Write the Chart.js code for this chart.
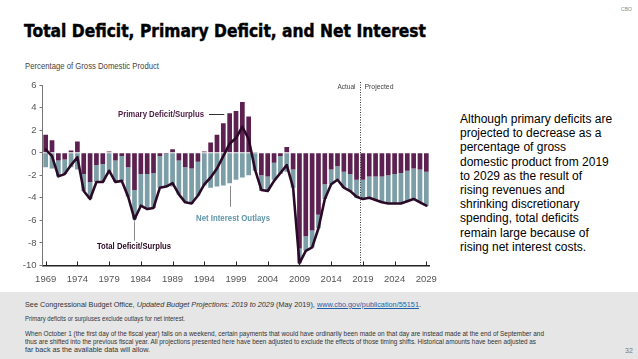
<!DOCTYPE html>
<html><head><meta charset="utf-8">
<script src="https://cdn.jsdelivr.net/npm/chart.js@4.4.1/dist/chart.umd.min.js"></script>
<style>
html,body{margin:0;padding:0;}
body{width:638px;height:359px;position:relative;overflow:hidden;background:#fff;font-family:"Liberation Sans",Arial,sans-serif;}
.fit{position:absolute;white-space:nowrap;transform-origin:0 50%;line-height:1;}
#title{left:24px;top:23px;font-size:17px;font-weight:bold;color:#000;font-family:"DejaVu Sans","Liberation Sans",sans-serif;-webkit-text-stroke:0.45px #000;}
#cbo{left:621px;top:7px;font-size:5px;color:#888;}
#ytitle{left:25px;top:62px;font-size:9px;color:#444;font-family:"Liberation Sans Narrow","Liberation Sans",sans-serif;}
#chartWrap{position:absolute;left:0;top:75px;width:445px;height:215px;}
#side{position:absolute;left:460px;top:112px;font-size:12px;line-height:14.2px;color:#000;white-space:nowrap;}
#footer{position:absolute;left:0;top:292px;width:638px;height:67px;background:#e6e6e6;}
.fl{position:absolute;left:25px;white-space:nowrap;transform-origin:0 50%;font-size:7px;line-height:1;color:#333;}
.fl a{color:#1f5fa8;text-decoration:underline;}
</style></head>
<body>
<div id="cbo" class="fit" data-w="11">CBO</div>
<div id="title" class="fit" data-w="402">Total Deficit, Primary Deficit, and Net Interest</div>
<div id="ytitle" class="fit" data-w="134">Percentage of Gross Domestic Product</div>
<div id="chartWrap"><canvas id="c" width="445" height="215"></canvas></div>
<div id="side">Although primary deficits are<br>projected to decrease as a<br>percentage of gross<br>domestic product from 2019<br>to 2029 as the result of<br>rising revenues and<br>shrinking discretionary<br>spending, total deficits<br>remain large because of<br>rising net interest costs.</div>
<div id="footer">
<div class="fl" data-w="396" style="top:8.5px;">See Congressional Budget Office, <i>Updated Budget Projections: 2019 to 2029</i> (May 2019), <a>www.cbo.gov/publication/55151</a>.</div>
<div class="fl" data-w="160" style="top:23px;">Primary deficits or surpluses exclude outlays for net interest.</div>
<div class="fl" data-w="519" style="top:37.5px;">When October 1 (the first day of the fiscal year) falls on a weekend, certain payments that would have ordinarily been made on that day are instead made at the end of September and</div>
<div class="fl" data-w="511" style="top:45.5px;">thus are shifted into the previous fiscal year. All projections presented here have been adjusted to exclude the effects of those timing shifts. Historical amounts have been adjusted as</div>
<div class="fl" data-w="125" style="top:53.5px;">far back as the available data will allow.</div>
<div class="fl" style="left:625px;top:55px;color:#777;">32</div>
</div>
<script>
// ---- Data (percentage of GDP) ----
const years = ['1969','1970','1971','1972','1973','1974','1975','1976','1977','1978',
'1979','1980','1981','1982','1983','1984','1985','1986','1987','1988',
'1989','1990','1991','1992','1993','1994','1995','1996','1997','1998',
'1999','2000','2001','2002','2003','2004','2005','2006','2007','2008',
'2009','2010','2011','2012','2013','2014','2015','2016','2017','2018',
'2019','2020','2021','2022','2023','2024','2025','2026','2027','2028','2029'];

const tickYears = ['1969','1974','1979','1984','1989','1994','1999','2004','2009','2014','2019','2024','2029'];
const yTicks = [6,4,2,0,-2,-4,-6,-8,-10];

// Primary deficit (-) / surplus (+)
const primary = [1.6,1.1,-0.7,-0.6,0.2,1.0,-1.9,-2.6,-1.1,-1.0,
0.1,-0.7,-0.3,-1.3,-3.3,-1.9,-1.9,-1.8,-0.3,-0.1,
0.3,-0.7,-1.3,-1.4,-0.8,0.1,0.9,1.6,2.6,3.5,
3.7,4.5,3.2,0.05,-2.0,-2.1,-0.9,-0.3,0.5,-1.5,
-8.5,-7.4,-6.9,-5.5,-2.8,-1.5,-1.2,-1.7,-1.9,-2.4,
-2.4,-2.1,-2.1,-2.1,-2.0,-1.9,-1.8,-1.6,-1.4,-1.5,-1.7];

// Net interest outlays
const netInterest = [1.3,1.4,1.4,1.3,1.3,1.5,1.5,1.5,1.5,1.6,
1.7,1.9,2.2,2.6,2.6,2.9,3.1,3.1,2.8,2.9,
3.0,3.0,3.1,3.1,3.0,2.9,3.1,3.0,2.9,2.7,
2.4,2.2,2.0,1.6,1.4,1.3,1.5,1.6,1.7,1.6,
1.3,1.3,1.5,1.2,1.3,1.3,1.2,1.4,1.5,1.6,
1.8,1.9,2.1,2.3,2.5,2.6,2.7,2.7,2.7,2.9,3.0];

// Total deficit (-) / surplus (+)
const totalDeficit = [0.3,-0.3,-2.1,-1.9,-1.1,-0.4,-3.4,-4.1,-2.6,-2.6,
-1.6,-2.6,-2.5,-3.9,-5.9,-4.7,-5.0,-4.9,-3.1,-3.0,
-2.7,-3.7,-4.4,-4.5,-3.8,-2.8,-2.2,-1.4,-0.3,0.8,
1.3,2.3,1.2,-1.5,-3.3,-3.4,-2.5,-1.8,-1.1,-3.1,
-9.8,-8.7,-8.4,-6.7,-4.1,-2.8,-2.4,-3.1,-3.4,-3.9,
-4.1,-4.0,-4.2,-4.4,-4.5,-4.5,-4.5,-4.3,-4.1,-4.4,-4.7];

const PURPLE = '#5d2151';
const TEAL = '#7b9ea7';
const LINE = '#2b0a27';
const FONT = '"Liberation Sans Narrow","Liberation Sans",Arial,sans-serif';

function fitText(ctx, text, left, y, w){
  const m = ctx.measureText(text).width;
  ctx.save(); ctx.translate(left, y); ctx.scale(w/m, 1);
  ctx.textAlign='left'; ctx.textBaseline='middle';
  ctx.fillText(text, 0, 0); ctx.restore();
}

const annot = {
  id:'annot',
  afterDraw(chart){
    const ctx = chart.ctx, xs = chart.scales.x, ys = chart.scales.y;
    const X = y => xs.getPixelForValue(years.indexOf(y));
    ctx.save();
    // upward tick marks on x axis
    ctx.strokeStyle = '#222'; ctx.lineWidth = 1;
    tickYears.forEach(t => {
      const x = Math.round(X(t)) + 0.5;
      ctx.beginPath(); ctx.moveTo(x, ys.bottom); ctx.lineTo(x, ys.bottom - 4); ctx.stroke();
    });
    // actual / projected divider
    const xd = Math.round((X('2018') + X('2019')) / 2) + 0.5;
    ctx.strokeStyle = '#333'; ctx.setLineDash([1,1.5]);
    ctx.beginPath(); ctx.moveTo(xd, ys.top - 3); ctx.lineTo(xd, ys.bottom); ctx.stroke();
    ctx.setLineDash([]);
    ctx.fillStyle = '#444'; ctx.font = '8px ' + FONT;
    fitText(ctx, 'Actual', xd - 23, ys.top + 2, 18);
    fitText(ctx, 'Projected', xd + 4, ys.top + 2, 29);
    // leaders
    ctx.lineWidth = 1;
    ctx.strokeStyle = '#333';
    const yp = Math.round(ys.getPixelForValue(3.43)) + 0.5;
    ctx.beginPath(); ctx.moveTo(209, yp); ctx.lineTo(X('1997') + 1, yp); ctx.stroke();
    ctx.strokeStyle = '#888';
    const xn = Math.round(X('1998')) + 0.5;
    ctx.beginPath(); ctx.moveTo(xn, ys.getPixelForValue(-2.95)); ctx.lineTo(xn, ys.getPixelForValue(-4.8)); ctx.stroke();
    const xt = Math.round(X('1983')) + 0.5;
    ctx.beginPath(); ctx.moveTo(xt, ys.getPixelForValue(-6.1)); ctx.lineTo(xt, ys.getPixelForValue(-7.8)); ctx.stroke();
    // labels
    ctx.font = 'bold 9px ' + FONT;
    ctx.fillStyle = '#4a1a40';
    fitText(ctx, 'Primary Deficit/Surplus', 118, yp, 86);
    ctx.fillStyle = '#5e95a7';
    fitText(ctx, 'Net Interest Outlays', 196, ys.getPixelForValue(-5.8), 74);
    ctx.fillStyle = '#2a0a24';
    fitText(ctx, 'Total Deficit/Surplus', 97, ys.getPixelForValue(-8.3), 74);
    ctx.restore();
  }
};

new Chart(document.getElementById('c'), {
  type:'bar',
  data:{
    labels: years,
    datasets:[
      {label:'Primary Deficit/Surplus', data: primary, backgroundColor: PURPLE, stack:'s', order:1,
       barPercentage:0.74, categoryPercentage:1},
      {label:'Net Interest Outlays', data: netInterest.map(v => -v), backgroundColor: TEAL, stack:'s', order:1,
       barPercentage:0.74, categoryPercentage:1},
      {type:'line', label:'Total Deficit/Surplus', data: totalDeficit, borderColor: LINE, borderWidth:2.6,
       pointRadius:0, tension:0, stack:'line', order:0, borderJoinStyle:'round', borderCapStyle:'round'}
    ]
  },
  options:{
    responsive:false, animation:false, devicePixelRatio:1,
    layout:{padding:{top:10, right:12.7, left:0, bottom:0}},
    plugins:{legend:{display:false}, tooltip:{enabled:false}},
    scales:{
      x:{stacked:true, offset:true,
         grid:{display:true, drawOnChartArea:false, drawTicks:false, offset:false, color:'transparent'},
         border:{display:true, color:'#222', width:1.5},
         ticks:{autoSkip:false, maxRotation:0, minRotation:0, padding:8, color:'#555',
                font:{family:FONT, size:9.5},
                callback:function(v,i){ return tickYears.includes(years[i]) ? years[i] : ''; }},
         afterFit(s){ s.height = 24.5; }
      },
      y:{stacked:true, min:-10, max:6,
         afterBuildTicks(s){ s.ticks = yTicks.map(v => ({value:v})); },
         grid:{drawOnChartArea:false, drawTicks:true, tickLength:3, color:'#777'},
         border:{display:true, color:'#777', width:1},
         ticks:{padding:3, color:'#555', font:{family:FONT, size:9.5},
                callback:v => String(v)},
         afterFit(s){ s.width = 42.5; }
      }
    }
  },
  plugins:[annot]
});

// fit text widths
document.querySelectorAll('[data-w]').forEach(el => {
  const w = el.getBoundingClientRect().width;
  const t = parseFloat(el.dataset.w);
  el.style.transform = 'scaleX(' + (t / w) + ')';
});
</script>
</body></html>
